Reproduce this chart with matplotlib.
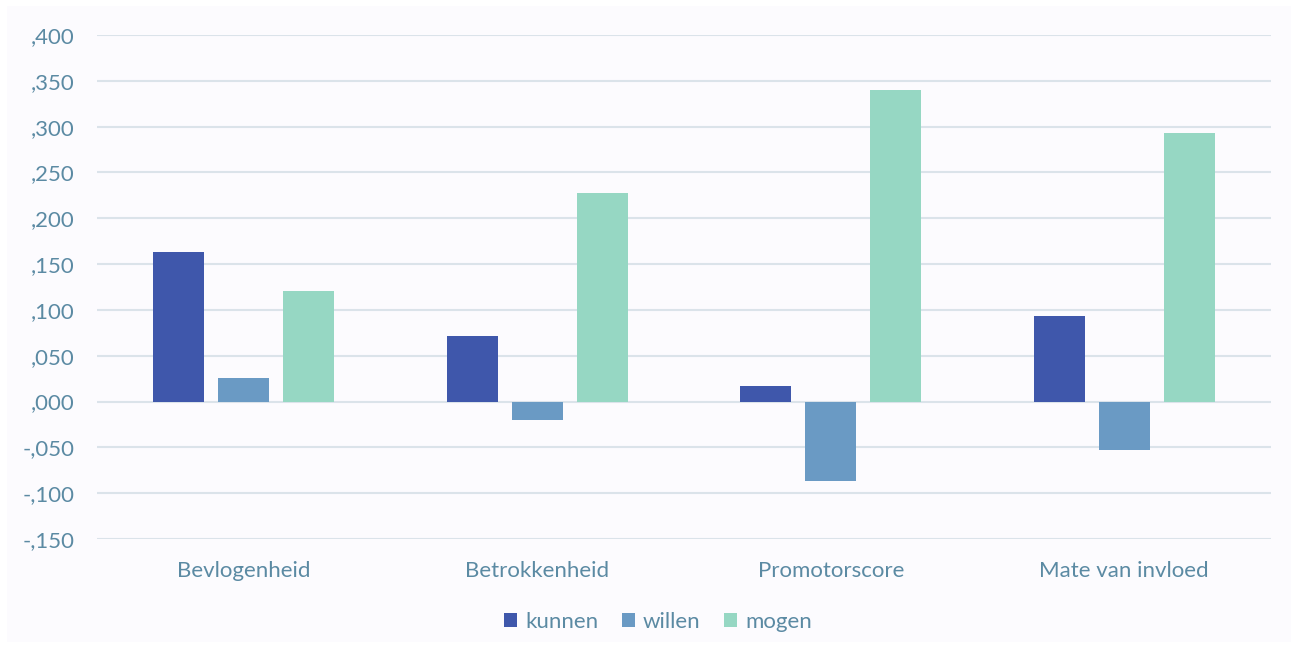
import matplotlib
matplotlib.use("Agg")
import matplotlib.pyplot as plt
from matplotlib.patches import Rectangle
from matplotlib.ticker import FuncFormatter, MultipleLocator
import numpy as np

categories = ["Bevlogenheid", "Betrokkenheid", "Promotorscore", "Mate van invloed"]
series_names = ["kunnen", "willen", "mogen"]
kunnen = [0.163, 0.071, 0.017, 0.093]
willen = [0.026, -0.020, -0.087, -0.053]
mogen = [0.121, 0.228, 0.340, 0.293]

colors = ["#3f57ab", "#6a9ac4", "#96d7c3"]
text_color = "#5b8aa3"
grid_color = "#dbe3ea"
panel_color = "#fcfbfe"

plt.rcParams["font.family"] = ["Lato", "DejaVu Sans"]

fig = plt.figure(figsize=(12.98, 6.47), dpi=100, facecolor="white")
W, H = 1298, 647
panel = Rectangle((7 / W, 1 - 642 / H), (1291 - 7) / W, (642 - 6) / H,
                  transform=fig.transFigure, facecolor=panel_color,
                  edgecolor="none", zorder=-10)
fig.add_artist(panel)

ax = fig.add_axes([97 / W, 1 - 539 / H, (1271 - 97) / W, (539 - 35) / H])
ax.set_facecolor("none")
ax.set_zorder(1)

x = np.arange(len(categories))
width = 0.174
pitch = 0.2215
for i, (vals, name) in enumerate(zip([kunnen, willen, mogen], series_names)):
    ax.bar(x + (i - 1) * pitch, vals, width=width, color=colors[i], label=name, zorder=3)

ax.set_xlim(-0.5, len(categories) - 0.5)
ax.set_ylim(-0.15, 0.40)
ax.yaxis.set_major_locator(MultipleLocator(0.05))


def fmt(v, pos):
    s = f"{abs(v):.3f}"[1:]
    s = s.replace(".", ",")
    return ("-" if v < -1e-9 else "") + s


ax.yaxis.set_major_formatter(FuncFormatter(fmt))
ax.grid(axis="y", color=grid_color, linewidth=1.5, zorder=0)
ax.set_axisbelow(True)
for sp in ax.spines.values():
    sp.set_visible(False)

ax.set_xticks(x)
ax.set_xticklabels(categories)
ax.tick_params(axis="both", length=0, labelsize=16, labelcolor=text_color)
ax.tick_params(axis="y", pad=16)
ax.tick_params(axis="x", pad=16)

leg = ax.legend(loc="center", bbox_to_anchor=(658 / W, 1 - 622 / H),
                bbox_transform=fig.transFigure, ncol=3, frameon=False,
                fontsize=16, handlelength=0.6, handleheight=0.6,
                handletextpad=0.36, columnspacing=1.05)
for t in leg.get_texts():
    t.set_color(text_color)

fig.savefig("out.png", dpi=100, facecolor="white")
